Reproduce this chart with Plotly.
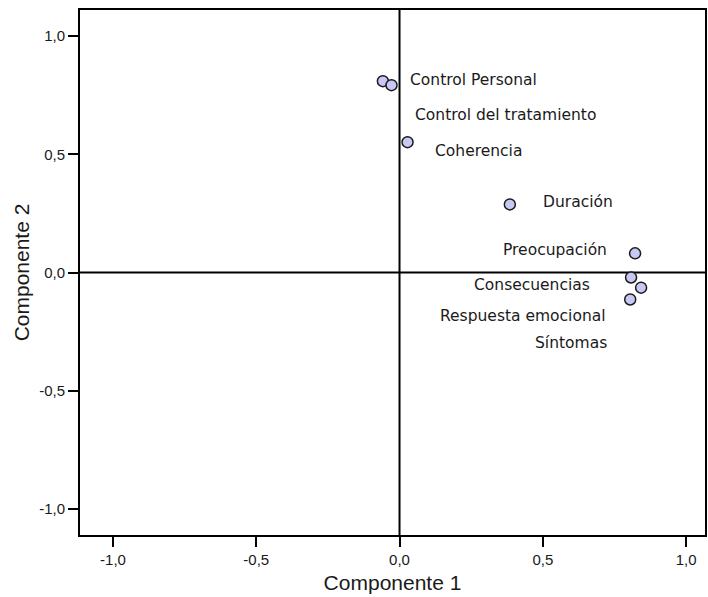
import plotly.graph_objects as go

labels = ["Control Personal", "Control del tratamiento", "Coherencia", "Duración",
          "Preocupación", "Consecuencias", "Respuesta emocional", "Síntomas"]
comp1 = [-0.058, -0.028, 0.028, 0.385, 0.822, 0.808, 0.843, 0.805]
comp2 = [0.809, 0.792, 0.551, 0.288, 0.081, -0.021, -0.064, -0.114]
tick_vals = [-1.0, -0.5, 0.0, 0.5, 1.0]
tick_text = ["-1,0", "-0,5", "0,0", "0,5", "1,0"]

# label placement (pixel offsets from each point, anchor side)
label_style = [
    ("left", 25, 1), ("left", 21, -30), ("left", 25, -9), ("left", 31, 2),
    ("right", -26, 3), ("right", -39, -8), ("right", -33, -28), ("right", -21, -44),
]

fig = go.Figure()
fig.add_trace(go.Scatter(
    x=comp1, y=comp2, mode="markers",
    marker=dict(size=11, color="#c8c8f5", line=dict(color="#1a1a1a", width=1.5)),
    hoverinfo="text", text=labels, showlegend=False,
))

for lab, x, y, (anc, dx, dy) in zip(labels, comp1, comp2, label_style):
    fig.add_annotation(x=x, y=y, text=lab, showarrow=False, xanchor=anc, yanchor="middle",
                       xshift=dx, yshift=dy,
                       font=dict(family="DejaVu Sans, Verdana", size=15.5, color="#1a1a1a"))

fig.add_shape(type="line", xref="x", yref="paper", x0=0, x1=0, y0=0, y1=1,
              line=dict(color="black", width=2), layer="below")
fig.add_shape(type="line", xref="paper", yref="y", x0=0, x1=1, y0=0, y1=0,
              line=dict(color="black", width=2), layer="below")

axis_common = dict(
    tickvals=tick_vals, ticktext=tick_text, ticks="outside", ticklen=10, tickwidth=2,
    tickcolor="black", showline=True, linecolor="black", linewidth=2, mirror=True,
    showgrid=False, zeroline=False,
    tickfont=dict(family="Liberation Sans, Arial", size=15, color="#1a1a1a"),
)
fig.update_xaxes(range=[-1.115, 1.066],
                 title=dict(text="Componente 1", font=dict(family="Liberation Sans, Arial", size=21, color="#1a1a1a"), standoff=8),
                 **axis_common)
fig.update_yaxes(range=[-1.11, 1.11],
                 title=dict(text="Componente 2", font=dict(family="Liberation Sans, Arial", size=21, color="#1a1a1a"), standoff=4),
                 **axis_common)

fig.update_layout(
    width=708, height=597, plot_bgcolor="white", paper_bgcolor="white",
    margin=dict(l=80, r=1, t=10, b=62),
)
fig.write_html("out.html")
